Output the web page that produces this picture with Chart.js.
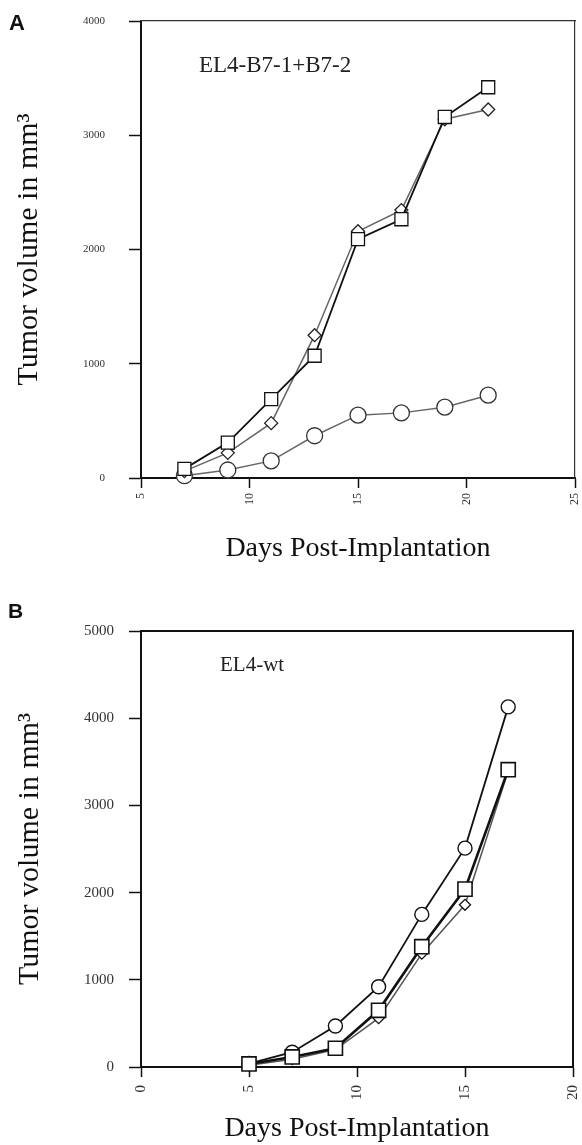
<!DOCTYPE html>
<html>
<head>
<meta charset="utf-8">
<script src="https://cdn.jsdelivr.net/npm/chart.js@4.4.1/dist/chart.umd.min.js"></script>
<style>
  html, body { margin: 0; padding: 0; background: #fff; }
  #wrap { position: relative; width: 582px; height: 1145px; background: #fff; }
  #boxA { position: absolute; left: 0; top: 0; width: 582px; height: 600px; }
  #boxB { position: absolute; left: 0; top: 600px; width: 582px; height: 545px; }
</style>
</head>
<body>
<div id="wrap">
  <div id="boxA"><canvas id="cA" width="582" height="600"></canvas></div>
  <div id="boxB"><canvas id="cB" width="582" height="545"></canvas></div>
</div>
<script>
// ---------- Panel A data (EL4-B7-1+B7-2) ----------
const daysA = [7, 9, 11, 13, 15, 17, 19, 21];
const squaresA = [80, 310, 690, 1070, 2090, 2265, 3160, 3420];
const diamondsA = [60, 220, 480, 1250, 2160, 2345, 3140, 3225];
const circlesA = [20, 70, 150, 370, 550, 570, 620, 725];
const xTicksA = [5, 10, 15, 20, 25];
const yTicksA = [0, 1000, 2000, 3000, 4000];

// ---------- Panel B data (EL4-wt) ----------
const daysB = [5, 7, 9, 11, 13, 15, 17];
const circlesB = [40, 170, 470, 920, 1750, 2510, 4130];
const squaresB = [35, 115, 215, 650, 1380, 2040, 3410];
const diamondsB = [20, 90, 200, 560, 1300, 1860, 3395];
const xTicksB = [0, 5, 10, 15, 20];
const yTicksB = [0, 1000, 2000, 3000, 4000, 5000];

const labelsText = {
  xTitle: 'Days Post-Implantation',
  yTitle: 'Tumor volume in mm\u00B3',
  panelA: 'A', panelB: 'B',
  insetA: 'EL4-B7-1+B7-2', insetB: 'EL4-wt'
};

const SERIF = "'Liberation Serif', 'Times New Roman', serif";
const SANS = "'Liberation Sans', Arial, sans-serif";

const pts = (xs, ys) => xs.map((x, i) => ({ x: x, y: ys[i] }));

const panelText = {
  id: 'panelText',
  afterDraw(chart, args, opts) {
    const ctx = chart.ctx;
    ctx.save();
    ctx.fillStyle = '#111';
    ctx.textBaseline = 'alphabetic';
    ctx.textAlign = 'left';
    ctx.font = 'bold ' + opts.letterSize + 'px ' + SANS;
    ctx.fillText(opts.letter, opts.letterX, opts.letterY);
    ctx.fillStyle = '#222';
    ctx.font = opts.insetSize + 'px ' + SERIF;
    ctx.fillText(opts.inset, opts.insetX, opts.insetY);
    ctx.restore();
  }
};

function zeroPad(s) {
  s.paddingTop = 0; s.paddingBottom = 0; s.paddingLeft = 0; s.paddingRight = 0;
}

function makeChart(id, cfg) {
  const tickFixer = (arr) => function (scale) {
    scale.ticks = arr.map(v => ({ value: v }));
  };
  const plain = (v) => String(v);
  return new Chart(document.getElementById(id), {
    type: 'line',
    data: { datasets: cfg.datasets },
    options: {
      responsive: false,
      animation: false,
      events: [],
      layout: { padding: cfg.padding, autoPadding: false },
      plugins: {
        legend: { display: false },
        tooltip: { enabled: false },
        panelText: cfg.text
      },
      scales: {
        x: {
          type: 'linear', position: 'bottom',
          min: cfg.xMin, max: cfg.xMax,
          afterBuildTicks: tickFixer(cfg.xTicks),
          ticks: {
            minRotation: 90, maxRotation: 90, autoSkip: false,
            padding: cfg.xTickPad,
            color: '#333',
            callback: plain,
            font: { family: SERIF, size: cfg.xTickSize }
          },
          grid: { display: true, drawOnChartArea: false, drawTicks: true, tickLength: 10, tickColor: '#111', tickWidth: 1.5 },
          border: { display: true, color: '#111', width: 2 },
          title: {
            display: true, text: labelsText.xTitle, color: '#111',
            font: { family: SERIF, size: 28, lineHeight: 1.2 },
            padding: { top: 0, bottom: cfg.xTitlePad }
          },
          afterFit(s) { s.height = cfg.xAxisH; zeroPad(s); }
        },
        y: {
          type: 'linear', position: 'left',
          min: cfg.yMin, max: cfg.yMax,
          afterBuildTicks: tickFixer(cfg.yTicks),
          ticks: {
            padding: cfg.yTickPad, color: '#333',
            callback: plain,
            font: { family: SERIF, size: cfg.yTickSize }
          },
          grid: { display: true, drawOnChartArea: false, drawTicks: true, tickLength: 12, tickColor: '#111', tickWidth: 1.5 },
          border: { display: true, color: '#111', width: 2 },
          title: {
            display: true, text: labelsText.yTitle, color: '#111',
            font: { family: SERIF, size: 30, lineHeight: 1.2 },
            padding: { top: cfg.yTitlePad, bottom: 0 }
          },
          afterFit(s) { s.width = cfg.yAxisW; zeroPad(s); }
        },
        x2: {
          type: 'linear', position: 'top', min: cfg.xMin, max: cfg.xMax,
          ticks: { display: false }, grid: { display: false, drawTicks: false },
          border: { display: true, color: cfg.frameColor, width: cfg.topW },
          afterFit(s) { s.height = 0; zeroPad(s); }
        },
        y2: {
          type: 'linear', position: 'right', min: cfg.yMin, max: cfg.yMax,
          ticks: { display: false }, grid: { display: false, drawTicks: false },
          border: { display: true, color: cfg.frameColor, width: cfg.rightW },
          afterFit(s) { s.width = 0; zeroPad(s); }
        }
      }
    },
    plugins: [panelText]
  });
}

const baseDs = (data, style) => Object.assign({
  data: data,
  showLine: true,
  tension: 0,
  fill: false,
  pointBackgroundColor: '#fff',
  pointBorderColor: '#111',
  pointBorderWidth: 1.3,
  clip: false
}, style);

// Panel A
makeChart('cA', {
  padding: { left: 0, top: 21, right: 7, bottom: 0 },
  xMin: 5, xMax: 25, yMin: 0, yMax: 4000,
  xTicks: xTicksA, yTicks: yTicksA,
  xTickPad: 5, yTickPad: 24, xTickSize: 12, yTickSize: 11,
  xAxisH: 122, yAxisW: 141,
  xTitlePad: 35, yTitlePad: 11,
  frameColor: '#333', topW: 1.2, rightW: 1.2,
  text: { letter: labelsText.panelA, letterX: 9, letterY: 30, letterSize: 22,
          inset: labelsText.insetA, insetX: 199, insetY: 72, insetSize: 23 },
  datasets: [
    baseDs(pts(daysA, squaresA), { borderColor: '#111', borderWidth: 1.8, pointStyle: 'rect', pointRadius: 9.2 }),
    baseDs(pts(daysA, diamondsA), { borderColor: '#666', borderWidth: 1.5, pointStyle: 'rectRot', pointRadius: 6.5, pointBorderColor: '#222' }),
    baseDs(pts(daysA, circlesA), { borderColor: '#666', borderWidth: 1.5, pointStyle: 'circle', pointRadius: 8, pointBorderColor: '#333' })
  ]
});

// Panel B
makeChart('cB', {
  padding: { left: 0, top: 31, right: 9, bottom: 0 },
  xMin: 0, xMax: 20, yMin: 0, yMax: 5000,
  xTicks: xTicksB, yTicks: yTicksB,
  xTickPad: 8, yTickPad: 15, xTickSize: 15, yTickSize: 15,
  xAxisH: 78, yAxisW: 141,
  xTitlePad: 0, yTitlePad: 12,
  frameColor: '#111', topW: 2, rightW: 2,
  text: { letter: labelsText.panelB, letterX: 8, letterY: 18, letterSize: 21,
          inset: labelsText.insetB, insetX: 220, insetY: 71, insetSize: 21 },
  datasets: [
    baseDs(pts(daysB, squaresB), { borderColor: '#111', borderWidth: 2.6, pointStyle: 'rect', pointRadius: 10, pointBorderWidth: 1.6 }),
    baseDs(pts(daysB, circlesB), { borderColor: '#111', borderWidth: 1.8, pointStyle: 'circle', pointRadius: 7, pointBorderWidth: 1.4 }),
    baseDs(pts(daysB, diamondsB), { borderColor: '#555', borderWidth: 1.5, pointStyle: 'rectRot', pointRadius: 5.5 })
  ]
});
</script>
</body>
</html>
